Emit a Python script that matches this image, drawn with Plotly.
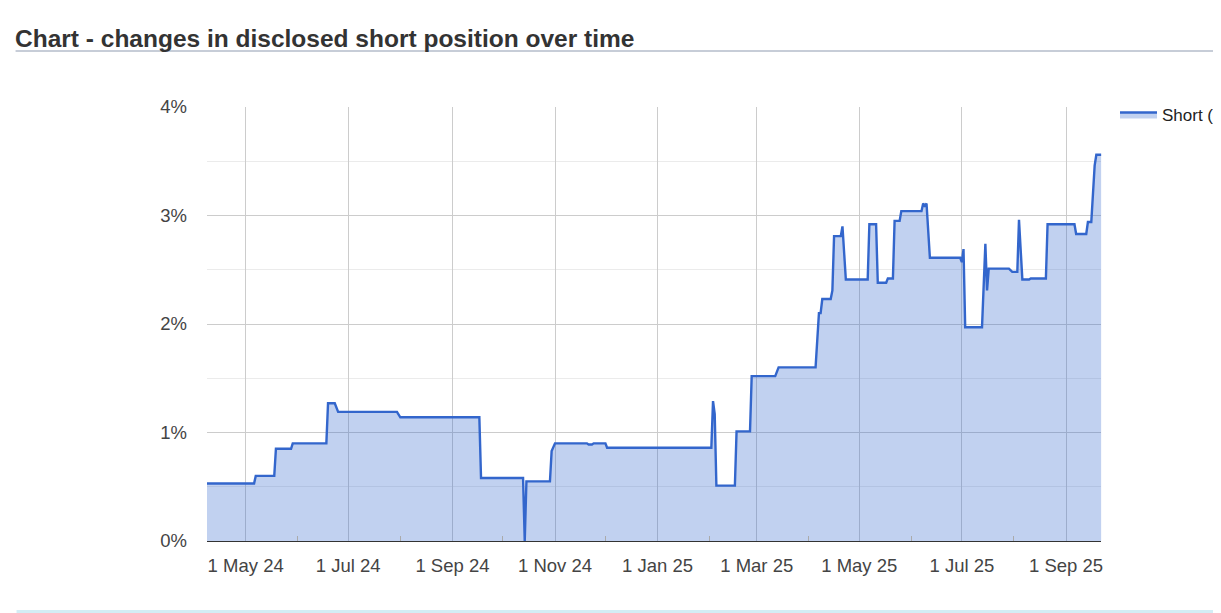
import plotly.graph_objects as go

dates = [
    "2024-04-08", "2024-05-06", "2024-05-07", "2024-05-18", "2024-05-19", "2024-05-28", "2024-05-29",
    "2024-06-18", "2024-06-19", "2024-06-23", "2024-06-25", "2024-07-30", "2024-08-01", "2024-09-17",
    "2024-09-18", "2024-10-13", "2024-10-14", "2024-10-15", "2024-10-29", "2024-10-30", "2024-11-01",
    "2024-11-20", "2024-11-21", "2024-11-23", "2024-11-24", "2024-12-01", "2024-12-02", "2025-02-02",
    "2025-02-03", "2025-02-04", "2025-02-05", "2025-02-16", "2025-02-17", "2025-02-25", "2025-02-26",
    "2025-03-12", "2025-03-14", "2025-04-05", "2025-04-07", "2025-04-08", "2025-04-09", "2025-04-14",
    "2025-04-15", "2025-04-16", "2025-04-20", "2025-04-21", "2025-04-23", "2025-05-06", "2025-05-07",
    "2025-05-11", "2025-05-12", "2025-05-17", "2025-05-18", "2025-05-21", "2025-05-22", "2025-05-25",
    "2025-05-26", "2025-06-07", "2025-06-08", "2025-06-09", "2025-06-10", "2025-06-12", "2025-06-30",
    "2025-07-01", "2025-07-02", "2025-07-03", "2025-07-13", "2025-07-15", "2025-07-16", "2025-07-17",
    "2025-07-29", "2025-07-31", "2025-08-03", "2025-08-04", "2025-08-06", "2025-08-10", "2025-08-11",
    "2025-08-20", "2025-08-21", "2025-09-06", "2025-09-07", "2025-09-13", "2025-09-14", "2025-09-16",
    "2025-09-18", "2025-09-19", "2025-09-22",
]
short_pct = [
    0.53, 0.53, 0.60, 0.60, 0.85, 0.85, 0.90,
    0.90, 1.27, 1.27, 1.19, 1.19, 1.14, 1.14,
    0.58, 0.58, 0.00, 0.55, 0.55, 0.83, 0.90,
    0.90, 0.89, 0.89, 0.90, 0.90, 0.86, 0.86,
    1.29, 1.17, 0.51, 0.51, 1.01, 1.01, 1.52,
    1.52, 1.60, 1.60, 2.10, 2.10, 2.23, 2.23,
    2.31, 2.81, 2.81, 2.90, 2.41, 2.41, 2.92,
    2.92, 2.38, 2.38, 2.42, 2.42, 2.95, 2.95,
    3.04, 3.04, 3.11, 3.09, 3.11, 2.61, 2.61,
    2.57, 2.69, 1.97, 1.97, 2.74, 2.31, 2.51,
    2.51, 2.48, 2.48, 2.96, 2.41, 2.41, 2.42,
    2.42, 2.92, 2.92, 2.83, 2.83, 2.94, 2.94,
    3.46, 3.56, 3.56,
]
series_name = "Short (%)"
title_text = "Chart - changes in disclosed short position over time"
y_ticks = [0, 1, 2, 3, 4]
y_labels = ["0%", "1%", "2%", "3%", "4%"]

# page body has an 8px margin: figure starts at (8, 8) in the window
OFF = 8
W, H = 1221 - OFF, 613 - OFF
L, R, T, B = 207 - OFF, 1104 - OFF, 107 - OFF, 541 - OFF

fig = go.Figure()
fig.add_trace(go.Scatter(
    x=dates, y=short_pct, name=series_name, mode="lines",
    line=dict(color="#3366cc", width=2.4),
    fill="tozeroy", fillcolor="rgba(51,102,204,0.30)",
    showlegend=True,
))

pw = R - L
ph = B - T
fig.update_layout(
    width=W, height=H,
    margin=dict(l=L, r=W - R, t=T, b=H - B, pad=0),
    paper_bgcolor="white", plot_bgcolor="white",
    font=dict(family="Liberation Sans, Arial, sans-serif", size=18, color="#444"),
    title=dict(text="<b>" + title_text + "</b>", x=(15 - OFF) / W, xanchor="left", xref="container",
               y=1 - (38 - OFF) / H, yanchor="middle", yref="container",
               font=dict(family="Liberation Sans, Arial, sans-serif", size=24.5, color="#333")),
    legend=dict(x=(1115 - OFF) / W, xref="container", xanchor="left", y=1 - (115 - OFF) / H, yref="container",
                yanchor="middle", font=dict(size=17, color="#222"), bgcolor="rgba(0,0,0,0)",
                itemwidth=37),
    xaxis=dict(
        type="date", range=["2024-04-08", "2025-09-22"],
        tick0="2024-05-01", dtick="M2", tickformat="%-d %b %y",
        showgrid=True, gridcolor="#cccccc", gridwidth=1,
        ticks="", showline=True, linecolor="#333", linewidth=1,
        ticklabelstandoff=8, tickfont=dict(size=18.5, color="#444"),
        minor=dict(dtick="M1", tick0="2024-05-01", ticks="inside", ticklen=5, tickcolor="#aaaaaa", showgrid=False),
        zeroline=False,
    ),
    yaxis=dict(
        range=[0, 4], tickvals=y_ticks, ticktext=y_labels,
        showgrid=True, gridcolor="#cccccc", gridwidth=1,
        minor=dict(dtick=0.5, showgrid=True, gridcolor="#ebebeb", gridwidth=1),
        ticks="", zeroline=False, ticklabelstandoff=19,
        tickfont=dict(size=18.5, color="#444"),
    ),
    shapes=[
        dict(type="line", xref="paper", yref="paper",
             x0=(15 - 207) / pw, x1=(1221 - 207) / pw, y0=(541 - 51) / ph, y1=(541 - 51) / ph,
             line=dict(color="#8f9bb0", width=1)),
        dict(type="line", xref="paper", yref="paper",
             x0=(16 - 207) / pw, x1=(1221 - 207) / pw, y0=(541 - 611.5) / ph, y1=(541 - 611.5) / ph,
             line=dict(color="#d3edf5", width=3)),
    ],
)

fig.write_html("out.html")
